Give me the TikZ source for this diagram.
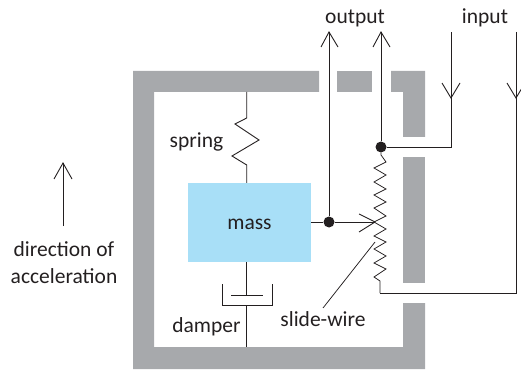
\documentclass[tikz,border=0pt]{standalone}
\usepackage{fontspec}
\setmainfont{Carlito}
\definecolor{wallgray}{HTML}{A7A9AC}
\definecolor{massblue}{HTML}{A8DFF7}
\definecolor{ink}{HTML}{231F20}
\tikzset{
  wall/.style={fill=wallgray,draw=none},
  wire/.style={draw=ink,line width=0.9pt,line join=miter},
  thin wire/.style={draw=ink,line width=0.75pt,line join=miter},
  label text/.style={text=ink,inner sep=0pt,anchor=base,font=\fontsize{21.5}{25}\selectfont},
  joint/.style={circle,fill=ink,inner sep=0pt,minimum size=11pt},
}
\begin{document}
\begin{tikzpicture}[x=1pt,y=-1pt]
\useasboundingbox (0,0) rectangle (521,371);
% housing
\fill[wall] (133,71) -- (319,71) -- (319,92) -- (154,92) -- (154,347) -- (403,347) -- (403,303) -- (425,303) -- (425,369) -- (133,369) -- cycle;
\fill[wall] (337,71) rectangle (372,92);
\fill[wall] (391,71) -- (425,71) -- (425,137) -- (403,137) -- (403,92) -- (391,92) -- cycle;
\fill[wall] (403,157) rectangle (425,283);
% mass
\node[fill=massblue,minimum width=123pt,minimum height=79pt,inner sep=0pt,anchor=north west] (mass) at (188,183) {};
\node[label text] (lmass) at (249.5,229) {mass};
% coordinates
\coordinate (springtop) at (246.7,92);
\coordinate (dampfoot) at (246.7,347);
\coordinate (output1) at (329,32);
\coordinate (output2) at (381,32);
\coordinate (input1) at (451,32);
\coordinate (input2) at (516,32);
\coordinate (corner1) at (451,147);
\coordinate (corner2) at (516,293);
\coordinate (corner3) at (380,293);
\coordinate (wiper) at (375,222);
\coordinate (pointerend) at (375,242);
\coordinate (pointerstart) at (323,308);
\node[joint] (dot1) at (329,222) {};
\node[joint] (dot2) at (381,147) {};
% spring
\draw[wire] (springtop) -- (246.7,118) -- (235,124) -- (259,140) -- (232,156) -- (246.7,165) -- (mass.north -| springtop);
% damper
\draw[wire] (mass.south -| springtop) -- (246.7,295);
\draw[wire] (231,295) -- (263,295);
\draw[wire] (222,284) -- (222,305) -- (272,305) -- (272,284);
\draw[wire] (246.7,305) -- (dampfoot);
% slide-wire resistor
\draw[thin wire] (dot2) -- (381,155) -- (386,162) -- (374,168) -- (386,175) -- (374,182) -- (386,189) -- (374,195) -- (386,202) -- (374,208) -- (386,216) -- (374,222) -- (386,229) -- (374,236) -- (386,242) -- (374,249) -- (386,256) -- (374,263) -- (386,269) -- (374,277) -- (380,281) -- (corner3);
% output and input wires
\draw[wire] (dot1) -- (output1);
\draw[wire] (321,47) -- (output1) -- (338,47);
\draw[wire] (dot2) -- (output2);
\draw[wire] (373,47) -- (output2) -- (390,47);
\draw[wire] (dot2) -- (corner1) -- (input1);
\draw[wire] (442,83) -- (451,98) -- (460,83);
\draw[wire] (input2) -- (corner2) -- (corner3);
\draw[wire] (507,83) -- (516,98) -- (525,83);
% wiper
\draw[wire] (mass.east |- wiper) -- (dot1) -- (wiper);
\draw[wire] (359,214) -- (wiper) -- (359,232);
\draw[thin wire] (pointerstart) -- (pointerend);
% direction arrow
\coordinate (dirtip) at (63,163);
\coordinate (dirfoot) at (63,226);
\draw[wire] (dirfoot) -- (dirtip);
\draw[wire] (54,179) -- (dirtip) -- (72,179);
% labels
\node[label text] (lout) at (355,24) {output};
\node[label text] (lin) at (485,24) {input};
\node[label text] (lspring) at (196.5,148) {spring};
\node[label text] (ldamper) at (206.5,332) {damper};
\node[label text] (lslide) at (323,326) {slide-wire};
\node[label text] (ldir) at (64,256) {direction of};
\node[label text] (lacc) at (64,283) {acceleration};
\end{tikzpicture}
\end{document}
